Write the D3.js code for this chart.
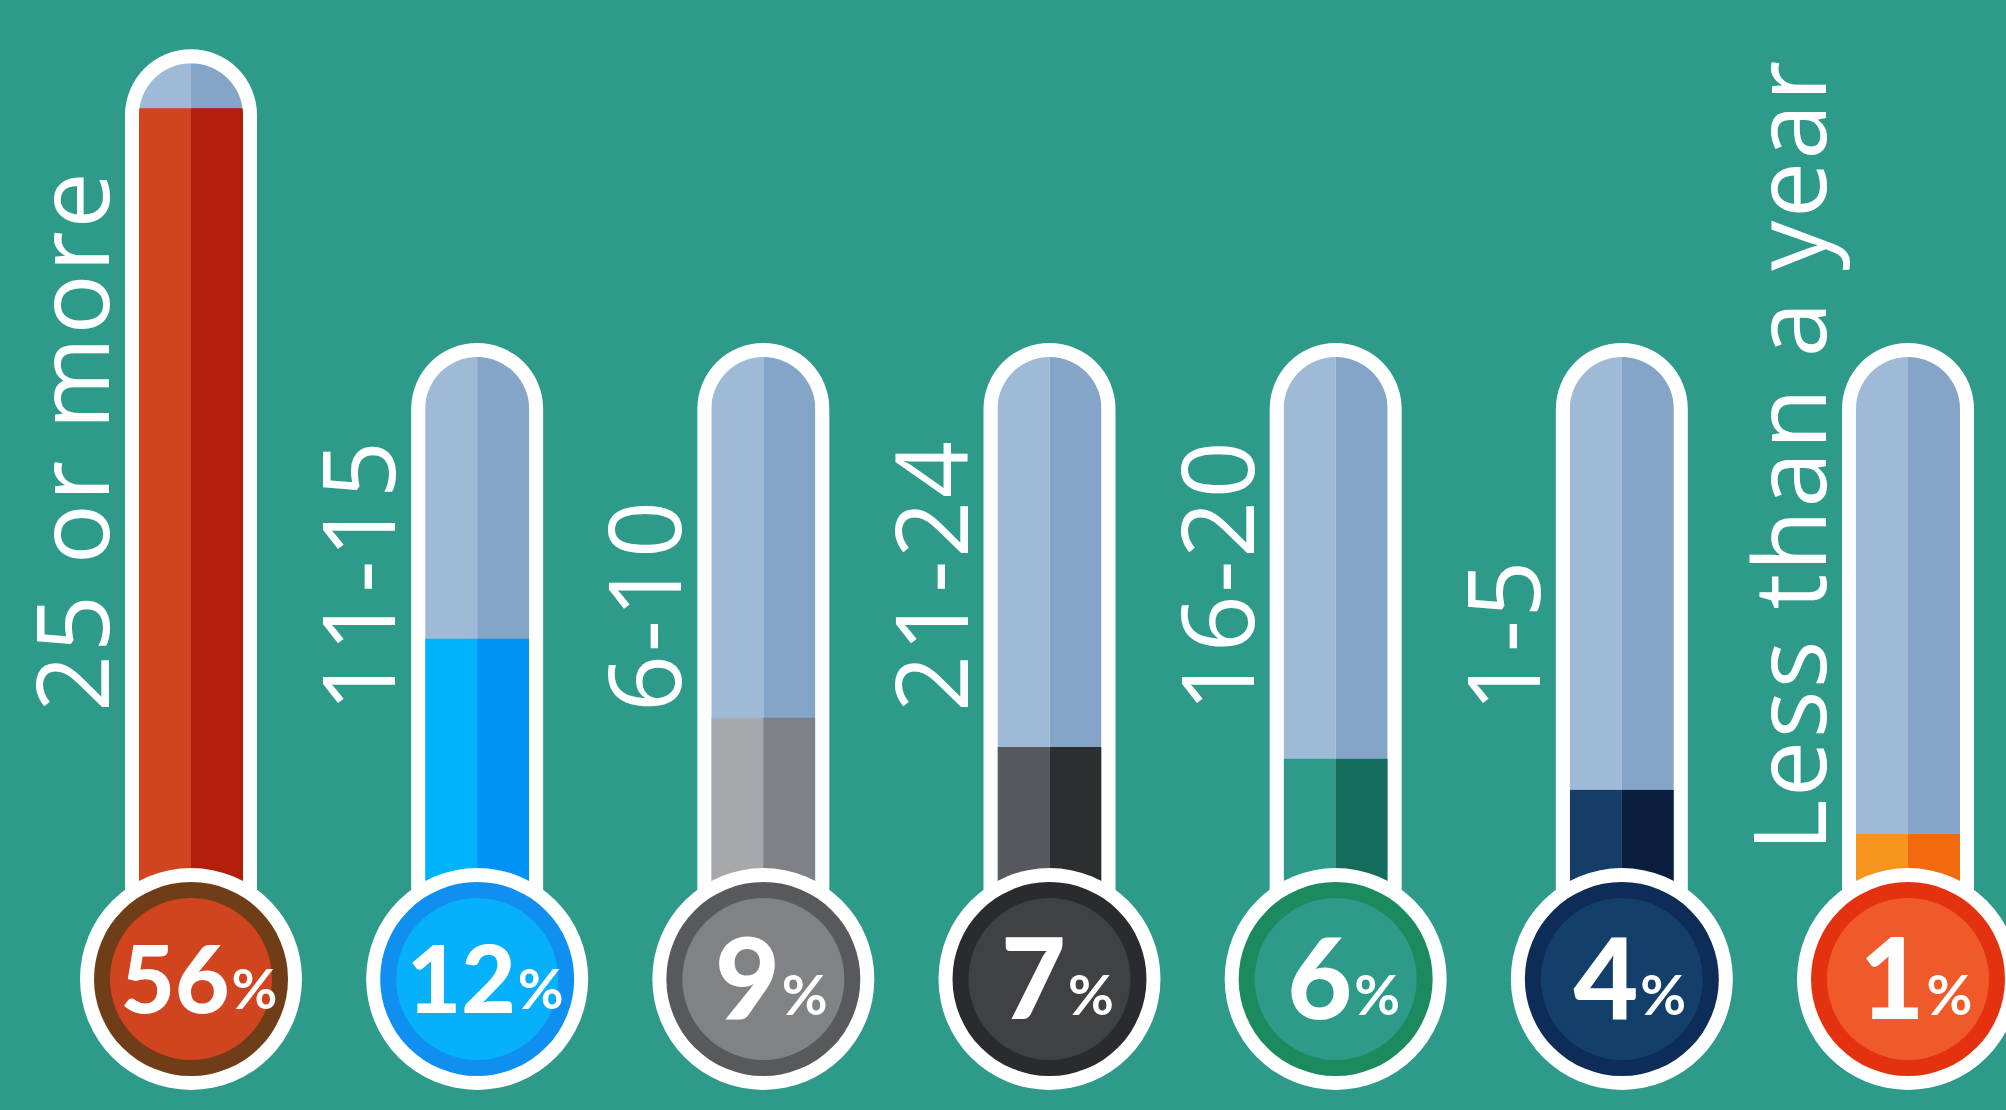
<!DOCTYPE html>
<html>
<head>
<meta charset="utf-8">
<script src="https://cdn.jsdelivr.net/npm/d3@7/dist/d3.min.js"></script>
<style>
  html, body { margin: 0; padding: 0; background: #2e9a89; }
  svg { display: block; }
</style>
</head>
<body>
<div id="chart"></div>
<script>
// data
const categories = ['25 or more', '11-15', '6-10', '21-24', '16-20', '1-5', 'Less than a year'];
const shares = [56, 12, 9, 7, 6, 4, 1];
// how full each tube is drawn, in % of a standard tube
const tubeLevels = [140, 54.7, 42, 37.3, 35.4, 30.4, 23.3];

const fillLight = ['#d0451f', '#00b3fb', '#a7a8ab', '#56585d', '#2e9a89', '#153d68', '#f7941d'];
const fillDark = ['#b2200b', '#0092f5', '#7f8186', '#2d2e31', '#146c5c', '#0a1e3d', '#f16a0e'];
const ringColors = ['#6f3d17', '#0f8ff0', '#58595d', '#2a2b2e', '#1b8b5f', '#0d2c58', '#e4310f'];
const discColors = ['#d0451f', '#06b0fa', '#808285', '#404144', '#2e9a89', '#153f6b', '#f05a2a'];

const WIDTH = 2006;
const HEIGHT = 1110;
const BASE_Y = 979;      // centre of the bulbs
const TUBE_R = 52;       // inner half width of a tube
const BORDER = 14;
const BULB_R = 111;
const RING_R = 97;
const DISC_R = 81;
const CAP_GAP = 45;

const rows = categories.map((c, i) => ({
  name: c, share: shares[i], level: tubeLevels[i],
  light: fillLight[i], dark: fillDark[i], ring: ringColors[i], disc: discColors[i], i
}));

const svg = d3.select('#chart')
  .append('svg')
  .attr('width', WIDTH)
  .attr('height', HEIGHT);

svg.append('rect')
  .attr('width', WIDTH)
  .attr('height', HEIGHT)
  .attr('fill', '#2e9a89');

// scales
const scaleX = d3.scalePoint().domain(categories).range([191, 1908]);
const scaleY = d3.scaleLinear().domain([0, 100]).range([BASE_Y, 357]);

const innerTop = (d) => Math.min(scaleY(100), scaleY(d.level) - CAP_GAP);

// rounded-top tube outline
const tubePath = (cx, top, bottom, r) =>
  `M${cx - r},${bottom} V${top + r} A${r},${r} 0 0 1 ${cx + r},${top + r} V${bottom} Z`;

const defs = svg.append('defs');
defs.selectAll('clipPath')
  .data(rows)
  .join('clipPath')
  .attr('id', (d) => `tube-${d.i}`)
  .append('path')
  .attr('d', (d) => tubePath(scaleX(d.name), innerTop(d), BASE_Y, TUBE_R));

const thermo = svg.selectAll('g.thermo')
  .data(rows)
  .join('g')
  .attr('class', 'thermo');

// white outline of the tube
thermo.append('path')
  .attr('fill', '#ffffff')
  .attr('d', (d) => tubePath(scaleX(d.name), innerTop(d) - BORDER, BASE_Y, TUBE_R + BORDER));

// tube contents
const inner = thermo.append('g')
  .attr('clip-path', (d) => `url(#tube-${d.i})`);

inner.append('rect')
  .attr('x', (d) => scaleX(d.name) - TUBE_R)
  .attr('y', (d) => innerTop(d))
  .attr('width', TUBE_R)
  .attr('height', (d) => BASE_Y - innerTop(d))
  .attr('fill', '#9fbad6');
inner.append('rect')
  .attr('x', (d) => scaleX(d.name))
  .attr('y', (d) => innerTop(d))
  .attr('width', TUBE_R)
  .attr('height', (d) => BASE_Y - innerTop(d))
  .attr('fill', '#84a5c8');

inner.append('rect')
  .attr('x', (d) => scaleX(d.name) - TUBE_R)
  .attr('y', (d) => scaleY(d.level))
  .attr('width', TUBE_R)
  .attr('height', (d) => BASE_Y - scaleY(d.level))
  .attr('fill', (d) => d.light);
inner.append('rect')
  .attr('x', (d) => scaleX(d.name))
  .attr('y', (d) => scaleY(d.level))
  .attr('width', TUBE_R)
  .attr('height', (d) => BASE_Y - scaleY(d.level))
  .attr('fill', (d) => d.dark);

// bulb
thermo.append('circle')
  .attr('cx', (d) => scaleX(d.name))
  .attr('cy', BASE_Y)
  .attr('r', BULB_R)
  .attr('fill', '#ffffff');
thermo.append('circle')
  .attr('cx', (d) => scaleX(d.name))
  .attr('cy', BASE_Y)
  .attr('r', RING_R)
  .attr('fill', (d) => d.ring);
thermo.append('circle')
  .attr('cx', (d) => scaleX(d.name))
  .attr('cy', BASE_Y)
  .attr('r', DISC_R)
  .attr('fill', (d) => d.disc);

// percentage in the bulb
const pct = thermo.append('text')
  .attr('x', (d) => scaleX(d.name) + 8)
  .attr('y', (d) => BASE_Y + (String(d.share).length > 1 ? 34 : 40))
  .attr('text-anchor', 'middle')
  .attr('fill', '#ffffff')
  .style('font-family', 'Lato, "Open Sans", sans-serif')
  .style('font-weight', 900);
pct.append('tspan')
  .style('font-size', (d) => (String(d.share).length > 1 ? '94px' : '112px'))
  .text((d) => d.share);
pct.append('tspan')
  .attr('dx', 2)
  .attr('dy', -4)
  .style('font-size', '56px')
  .style('font-weight', 700)
  .text('%');

// category label, rotated
thermo.append('text')
  .attr('fill', '#ffffff')
  .attr('text-anchor', 'start')
  .style('font-family', '"Open Sans", sans-serif')
  .style('font-size', '100px')
  .style('font-weight', 500)
  .style('letter-spacing', '2.5px')
  .text((d) => d.name)
  .each(function (d) {
    const len = this.getComputedTextLength();
    const start = Math.max(712, 58 + len);
    d3.select(this).attr('transform', `translate(${scaleX(d.name) - 82},${start}) rotate(-90)`);
  });
</script>
</body>
</html>
